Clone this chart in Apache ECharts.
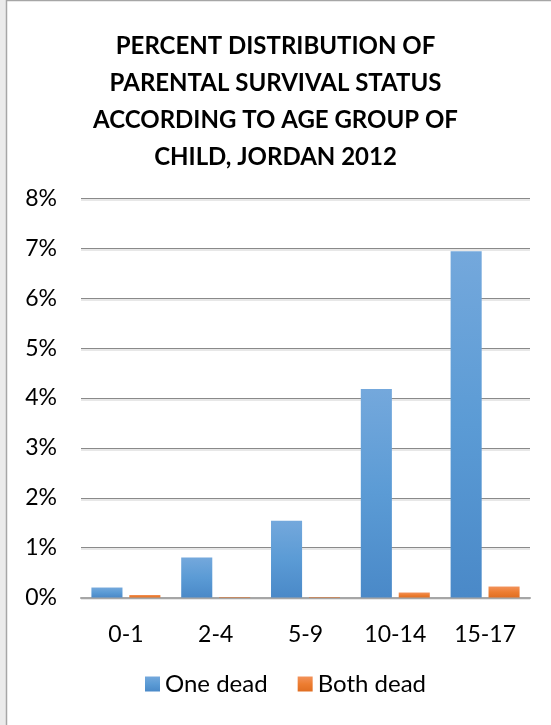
<!DOCTYPE html>
<html>
<head>
<meta charset="utf-8">
<style>
  html, body { margin: 0; padding: 0; background: #ebebeb; }
  #chart { width: 551px; height: 725px; }
</style>
<script src="https://cdn.jsdelivr.net/npm/echarts@6/dist/echarts.min.js"></script>
</head>
<body>
<div id="chart"></div>
<script>
// Age groups of the child
const ageGroups = ['0-1', '2-4', '5-9', '10-14', '15-17'];
// Percent of children with one parent dead
const oneDead = [0.20, 0.80, 1.54, 4.18, 6.94];
// Percent of children with both parents dead
const bothDead = [0.05, 0.01, 0.01, 0.10, 0.22];
// Y-axis tick range (percent)
const yMin = 0, yMax = 8, yStep = 1;

const titleText = 'PERCENT DISTRIBUTION OF\nPARENTAL SURVIVAL STATUS\nACCORDING TO AGE GROUP OF\nCHILD, JORDAN 2012';
const fontFam = 'Lato, "Open Sans", sans-serif';

const blueFill = new echarts.graphic.LinearGradient(0, 0, 0, 1, [
  { offset: 0, color: '#74a8dc' },
  { offset: 0.5, color: '#5b9bd5' },
  { offset: 1, color: '#4a89c8' }
]);
const orangeFill = new echarts.graphic.LinearGradient(0, 0, 0, 1, [
  { offset: 0, color: '#f2925a' },
  { offset: 0.5, color: '#ed7d31' },
  { offset: 1, color: '#e06e22' }
]);

const chart = echarts.init(document.getElementById('chart'), null, { renderer: 'canvas' });
chart.setOption({
  backgroundColor: '#ebebeb',
  animation: false,
  graphic: [{
    type: 'rect',
    z: -10,
    silent: true,
    shape: { x: 6.5, y: 0.5, width: 620, height: 800 },
    style: { fill: '#ffffff', stroke: '#a6a6a6', lineWidth: 1.5 }
  }],
  title: {
    text: titleText,
    left: 'center',
    top: 23,
    textStyle: {
      fontFamily: fontFam,
      fontWeight: 'bold',
      fontSize: 24,
      lineHeight: 37,
      color: '#000'
    }
  },
  grid: { left: 81, right: 21, top: 198.5, bottom: 127.5, containLabel: false },
  xAxis: {
    type: 'category',
    data: ageGroups,
    axisTick: { show: false },
    axisLine: { lineStyle: { color: '#a6a6a6', width: 2 } },
    axisLabel: { fontFamily: fontFam, fontSize: 23, color: '#000', margin: 26 }
  },
  yAxis: {
    type: 'value',
    min: yMin,
    max: yMax,
    interval: yStep,
    axisLine: { show: false },
    axisTick: { show: false },
    axisLabel: {
      fontFamily: fontFam, fontSize: 23, color: '#000', margin: 24,
      formatter: v => v + '%'
    },
    splitLine: {
      lineStyle: { color: '#8a8a8a', width: 1, shadowColor: '#d0d0d0', shadowOffsetY: 1.5, shadowBlur: 0 }
    }
  },
  legend: {
    bottom: 24,
    left: 140,
    itemWidth: 15,
    itemHeight: 15,
    itemGap: 30,
    icon: 'rect',
    textStyle: { fontFamily: fontFam, fontSize: 24, color: '#000' },
    data: ['One dead', 'Both dead']
  },
  series: [
    {
      name: 'One dead',
      type: 'bar',
      data: oneDead,
      barWidth: '34.6%',
      barGap: '22%',
      itemStyle: { color: blueFill }
    },
    {
      name: 'Both dead',
      type: 'bar',
      data: bothDead,
      barWidth: '34.6%',
      itemStyle: { color: orangeFill }
    }
  ]
});
</script>
</body>
</html>
